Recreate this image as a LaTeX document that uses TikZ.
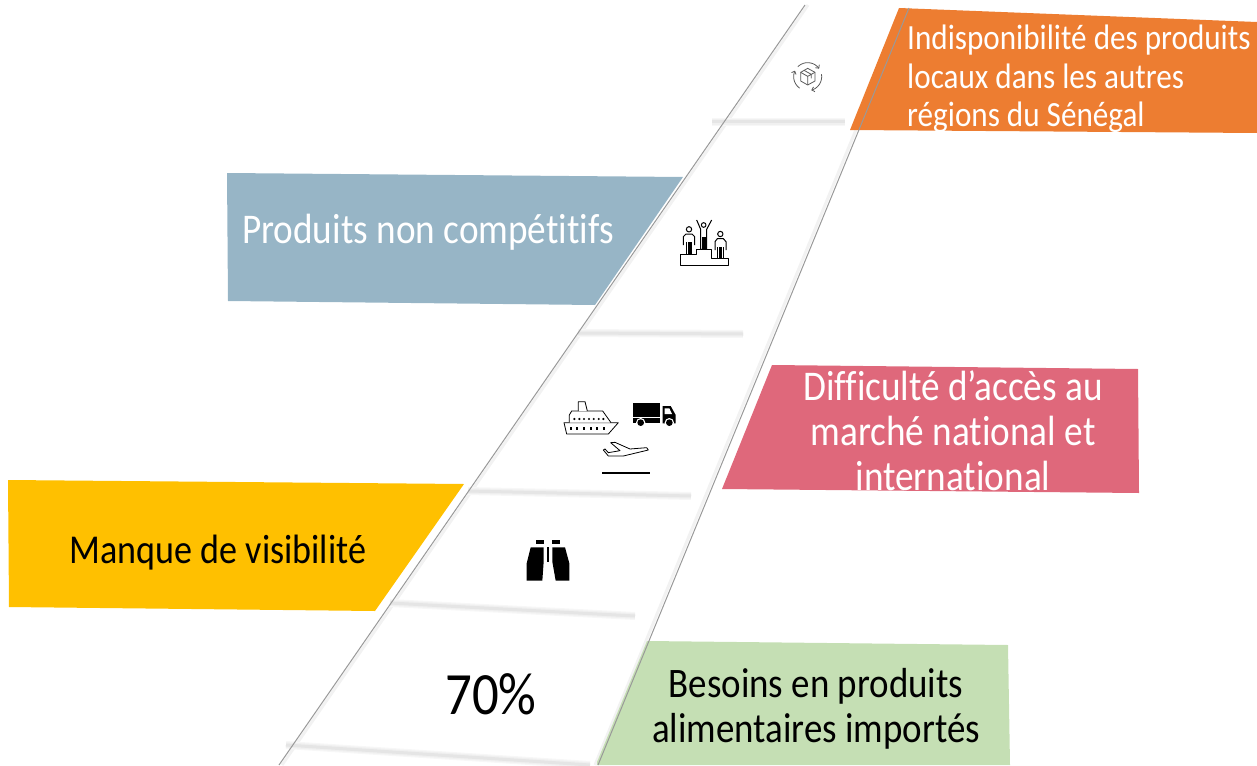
\documentclass[tikz,border=0pt]{standalone}
\usepackage{fontspec}
\usetikzlibrary{arrows.meta}
\setmainfont[FakeStretch=0.88,Ligatures=NoCommon]{Carlito}
\definecolor{co}{HTML}{ED7D31}\definecolor{cb}{HTML}{97B5C6}\definecolor{cr}{HTML}{DF687B}
\definecolor{cy}{HTML}{FFC000}\definecolor{cg}{HTML}{C5DFB4}
\begin{document}
\begin{tikzpicture}[x=1pt,y=-1pt,
 lbl/.style={align=center,text=white,inner sep=0pt},
 rail/.style={draw=black!40,line width=1pt},
 railsoft/.style={draw=black!5,line width=3pt},
 shelfa/.style={draw=black!3,line width=8pt},
 shelfb/.style={draw=black!6,line width=5.5pt},
 shelfc/.style={draw=black!10,line width=3pt},
 ic/.style={draw=black,line width=0.8pt,fill=white,line join=round},
 gic/.style={draw=black!65,line width=0.8pt,line join=round},
 cyc/.style={gic,-{Straight Barb[length=2.5pt,width=5pt]}}]
\useasboundingbox (0,0) rectangle (1257,765);
\coordinate (r1a) at (805,5);\coordinate (r1b) at (279,765);
\coordinate (r2a) at (909,8);\coordinate (r2b) at (598,765);
\draw[railsoft] ([xshift=3pt]r1a)--([xshift=3pt]r1b);
\draw[railsoft] ([xshift=-3pt]r2a)--([xshift=-3pt]r2b);
\fill[co] (899,8)--(1257,22)--(1257,133)--(850,130)--cycle;
\fill[cb] (227,173)--(683,177)--(595,305)--(228,301)--cycle;
\fill[cr] (772,365)--(1138,369)--(1139,493)--(722,489)--cycle;
\fill[cy] (8,480)--(464,484)--(375,611)--(9,607)--cycle;
\fill[cg] (647,641)--(1008,645)--(1010,765)--(597,765)--(597,762)--cycle;
% shelves
\foreach \ax/\ay/\bx/\by in {712/122/845/122,578/333/743/334,468/491/691/496,390/603/635/616,286/745/590/765}{
 \draw[shelfa] (\ax,\ay)--(\bx,\by);
 \draw[shelfb] (\ax,\ay)--(\bx,\by);
 \draw[shelfc] (\ax,\ay)--(\bx,\by);
}
% rails
\draw[rail] (r1a)--(r1b);
\draw[rail] (r2a)--(r2b);
% text
\node[lbl,font=\fontsize{35.4}{38.5}\selectfont,align=left,anchor=north west] (t1) at (907,25) {Indisponibilité des produits\\locaux dans les autres\\régions du Sénégal};
\node[lbl,font=\fontsize{42.3}{46}\selectfont] (t2) at (428,232) {Produits non compétitifs};
\node[lbl,font=\fontsize{42.3}{45}\selectfont] (t3) at (953,431) {Difficulté d’accès au\\marché national et\\international};
\node[lbl,text=black,font=\fontsize{41}{44}\selectfont] (t4) at (218,553) {Manque de visibilité};
\node[lbl,text=black,font=\fontsize{42}{45}\selectfont] (t5) at (816,709) {Besoins en produits\\alimentaires importés};
\node[lbl,text=black,font=\fontsize{60}{64}\selectfont] (t6) at (491,694) {70\%};
% recycle-box icon
\begin{scope}[shift={(770,40)},scale=1/3]
\draw[gic] (113,85)--(135,97)--(135,123)--(113,135)--(92,123)--(92,97)--cycle;
\draw[gic] (92,97)--(113,109)--(135,97) (113,109)--(113,135) (102,91)--(124,103)--(124,115);
\draw[cyc] plot[smooth,domain=225:325,samples=15] ({113+42*cos(\x)},{110+42*sin(\x)});
\draw[cyc] plot[smooth,domain=-10:75,samples=15] ({113+42*cos(\x)},{110+42*sin(\x)});
\draw[cyc] plot[smooth,domain=125:205,samples=15] ({113+42*cos(\x)},{110+42*sin(\x)});
\end{scope}
% podium icon
\begin{scope}[shift={(660,200)},scale=1/3]
\draw[ic,line width=1pt] (62,195)--(62,162)--(110,162)--(110,148)--(155,148)--(155,175)--(205,175)--(205,195)--cycle;
\draw[ic,line width=1pt] (110,60)--(122,88)--(122,148)--(140,148)--(140,88)--(155,60);
\draw[ic,line width=1pt] (131,75) circle (7);
\fill (125,112) rectangle (137,148);
\draw[ic,line width=1pt] (70,135)--(70,110)--(78,102)--(96,102)--(104,110)--(104,135);
\draw[ic,line width=1pt] (80,162)--(80,125) (95,162)--(95,125);
\fill (83,125) rectangle (92,162);
\draw[ic,line width=1pt] (87,88) circle (8);
\draw[ic,line width=1pt] (165,150)--(165,125)--(172,116)--(190,116)--(198,125)--(198,150);
\draw[ic,line width=1pt] (173,175)--(173,140) (190,175)--(190,140);
\fill (177,140) rectangle (186,175);
\draw[ic,line width=1pt] (181,102) circle (8);
\end{scope}
% ship, truck, plane, runway
\begin{scope}[shift={(540,380)},scale=1/3]
\draw[ic] (72,128)--(235,128)--(205,162)--(80,162)--cycle;
\draw[ic] (88,128)--(88,105)--(95,93)--(188,93)--(213,128);
\draw[ic] (115,93)--(115,65)--(135,65)--(142,93);
\foreach \x in {103,118,132,147,161,176,190}{\fill (\x,117) circle (3.5);}
\foreach \x in {92,112,132,152,172,192}{\fill (\x-3,142) rectangle (\x+3,150);}
\fill (280,70) rectangle (360,112);
\fill (280,114) rectangle (360,130);
\fill (368,78)--(392,78)--(407,105)--(407,130)--(368,130)--cycle;
\fill[white] (374,85)--(388,85)--(396,102)--(374,102)--cycle;
\fill[white] (302,128) circle (14);\fill (302,128) circle (10);
\fill[white] (388,128) circle (14);\fill (388,128) circle (10);
\draw[ic] (190,210)--(205,228)--(250,228)--(325,210)--(320,203)--(270,207)--(225,187)--(212,188)--(240,212)--(205,218)--(195,207)--cycle;
\fill (186,275) rectangle (330,282);
\end{scope}
% binoculars
\begin{scope}[shift={(510,530)},scale=1/3]
\fill (77,30) rectangle (101,43);
\fill (127,30) rectangle (151,43);
\fill (110,52) rectangle (118,95);
\fill (62,52)--(101,52)--(101,95)--(97,152)--(50,152)--(50,100)--cycle;
\fill (127,52)--(165,52)--(178,100)--(178,152)--(137,152)--(127,95)--cycle;
\end{scope}
\end{tikzpicture}
\end{document}
